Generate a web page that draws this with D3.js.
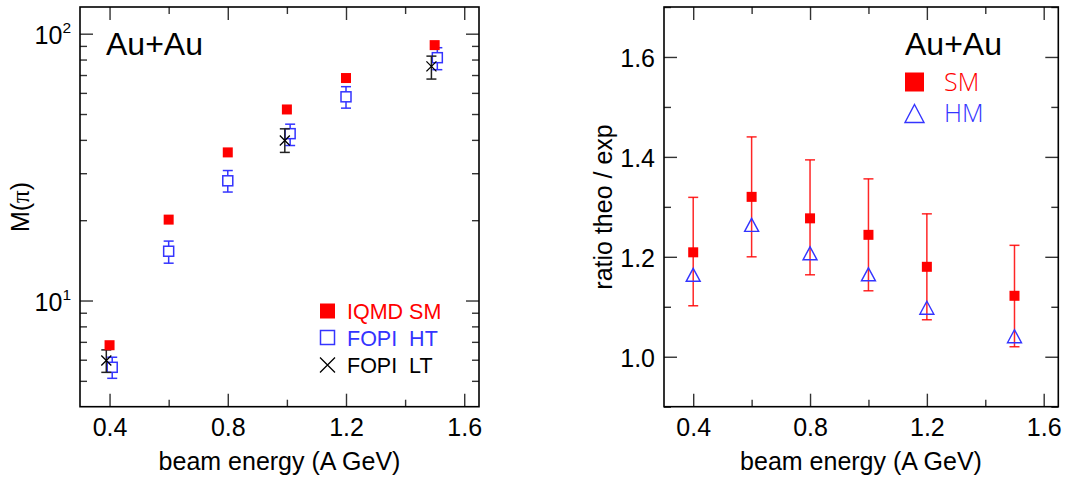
<!DOCTYPE html>
<html><head><meta charset="utf-8">
<script src="https://cdn.jsdelivr.net/npm/d3@7"></script>
<style>
html,body{margin:0;padding:0;background:#fff;}
svg{display:block;font-family:"Liberation Sans",Arial,Helvetica,sans-serif;}
</style></head>
<body>
<svg id="c" width="1069" height="477"></svg>
<script>
// ---------- data ----------
const energies = [0.4, 0.6, 0.8, 1.0, 1.2, 1.5];
// left panel: pion multiplicity
const iqmdSM   = [6.8, 20.1, 35.9, 52.0, 68.2, 90.6];
const fopiHTx  = [0.409, 0.6, 0.8, 1.011, 1.2, 1.509];
const fopiHT   = [5.62, 15.3, 28.1, 42.2, 58.0, 81.3];
const fopiHTlo = [5.11, 13.8, 25.5, 38.1, 52.6, 73.3];
const fopiHThi = [6.13, 16.7, 30.7, 45.8, 63.3, 88.6];
const fopiLTx  = [0.389, 0.993, 1.489];
const fopiLT   = [5.96, 39.8, 75.4];
const fopiLTlo = [5.38, 35.9, 67.6];
const fopiLThi = [6.53, 44.0, 82.4];
// right panel: ratio theo / exp
const ratioSM   = [1.209, 1.320, 1.277, 1.244, 1.180, 1.122];
const ratioSMlo = [1.102, 1.200, 1.164, 1.132, 1.074, 1.020];
const ratioSMhi = [1.319, 1.440, 1.394, 1.356, 1.286, 1.223];
const ratioHM   = [1.164, 1.264, 1.207, 1.165, 1.098, 1.041];
// ticks
const xMajor = [0.4, 0.8, 1.2, 1.6];
const xMinor = [0.6, 1.0, 1.4];
const yLogMajor = [10, 100];
const yLogMinor = [5, 6, 7, 8, 9, 20, 30, 40, 50, 60, 70, 80, 90];
const yRatMajor = [1.0, 1.2, 1.4, 1.6];
const yRatMinor = [0.9, 1.1, 1.3, 1.5, 1.7];
const legendLeft = ["IQMD SM", "FOPI  HT", "FOPI  LT"];
const legendRight = ["SM", "HM"];

const RED = "#ff0000", BLUE = "#3434ff", BLACK = "#000";
const svg = d3.select("#c");
const TOP = 7, BOT = 406.7;
const MAJ = 13, MIN = 7;

function frameAxes(g, x, y, xL, xR, yMaj, yMin, yFmt) {
  const tickCol = "#333";
  const style = sel => { sel.select(".domain").remove(); sel.selectAll("line").attr("stroke", tickCol).attr("stroke-width", 1.4); };
  g.append("g").attr("transform", `translate(0,${BOT})`)
    .call(d3.axisBottom(x).tickValues(xMajor).tickSizeInner(-MAJ).tickSizeOuter(0).tickPadding(12).tickFormat(d3.format(".1f")))
    .call(style).selectAll("text").attr("font-size", 25).attr("fill", "#000").attr("font-family", "Liberation Sans, Arial, sans-serif");
  g.append("g").attr("transform", `translate(0,${BOT})`)
    .call(d3.axisBottom(x).tickValues(xMinor).tickSizeInner(-MIN).tickSizeOuter(0).tickFormat(""))
    .call(style);
  g.append("g").attr("transform", `translate(0,${TOP})`)
    .call(d3.axisTop(x).tickValues(xMajor).tickSizeInner(-MAJ).tickSizeOuter(0).tickFormat(""))
    .call(style);
  g.append("g").attr("transform", `translate(0,${TOP})`)
    .call(d3.axisTop(x).tickValues(xMinor).tickSizeInner(-MIN).tickSizeOuter(0).tickFormat(""))
    .call(style);
  const la = g.append("g").attr("transform", `translate(${xL},0)`)
    .call(d3.axisLeft(y).tickValues(yMaj).tickSizeInner(-MAJ).tickSizeOuter(0).tickPadding(9).tickFormat(yFmt))
    .call(style);
  g.append("g").attr("transform", `translate(${xL},0)`)
    .call(d3.axisLeft(y).tickValues(yMin).tickSizeInner(-MIN).tickSizeOuter(0).tickFormat(""))
    .call(style);
  g.append("g").attr("transform", `translate(${xR},0)`)
    .call(d3.axisRight(y).tickValues(yMaj).tickSizeInner(-MAJ).tickSizeOuter(0).tickFormat(""))
    .call(style);
  g.append("g").attr("transform", `translate(${xR},0)`)
    .call(d3.axisRight(y).tickValues(yMin).tickSizeInner(-MIN).tickSizeOuter(0).tickFormat(""))
    .call(style);
  g.append("rect").attr("x", xL).attr("y", TOP).attr("width", xR - xL).attr("height", BOT - TOP)
    .attr("fill", "none").attr("stroke", "#000").attr("stroke-width", 1.6);
  return la;
}

function errBars(g, xs, lo, hi, x, y, col, cap) {
  xs.forEach((xv, i) => {
    const px = x(xv), y1 = y(lo[i]), y2 = y(hi[i]);
    g.append("line").attr("x1", px).attr("x2", px).attr("y1", y1).attr("y2", y2).attr("stroke", col).attr("stroke-width", 1.5);
    [y1, y2].forEach(yy => g.append("line").attr("x1", px - cap / 2).attr("x2", px + cap / 2).attr("y1", yy).attr("y2", yy).attr("stroke", col).attr("stroke-width", 1.5));
  });
}
function sqFilled(g, px, py, s, col) { g.append("rect").attr("x", px - s / 2).attr("y", py - s / 2).attr("width", s).attr("height", s).attr("fill", col); }
function sqOpen(g, px, py, s, col) { g.append("rect").attr("x", px - s / 2).attr("y", py - s / 2).attr("width", s).attr("height", s).attr("fill", "#fff").attr("stroke", col).attr("stroke-width", 1.5); }
function cross(g, px, py, s, col) {
  g.append("path").attr("d", `M${px - s / 2},${py - s / 2}L${px + s / 2},${py + s / 2}M${px - s / 2},${py + s / 2}L${px + s / 2},${py - s / 2}`).attr("stroke", col).attr("stroke-width", 1.3).attr("fill", "none");
}
function tri(g, px, py, w, h, col) {
  g.append("path").attr("d", `M${px},${py - h / 2}L${px + w / 2},${py + h / 2}L${px - w / 2},${py + h / 2}Z`).attr("stroke", col).attr("stroke-width", 1.4).attr("fill", "none");
}

// ---------- left panel ----------
const gL = svg.append("g");
const xL = d3.scaleLinear().domain([0.3, 1.65]).range([80, 479]);
const yL = d3.scaleLog().domain([4, 125.9]).range([BOT, TOP]);
const laL = frameAxes(gL, xL, yL, 80, 479, yLogMajor, yLogMinor, () => "");
laL.selectAll(".tick text").each(function (d) {
  const t = d3.select(this).attr("dy", null).attr("y", 10).attr("fill", "#000");
  t.append("tspan").attr("font-size", 25).text("10");
  t.append("tspan").attr("font-size", 15.5).attr("dy", -11).text(Math.round(Math.log10(d)));
});

errBars(gL, fopiHTx, fopiHTlo, fopiHThi, xL, yL, BLUE, 10);
fopiHTx.forEach((xv, i) => sqOpen(gL, xL(xv), yL(fopiHT[i]), 10, BLUE));
errBars(gL, fopiLTx, fopiLTlo, fopiLThi, xL, yL, "#222", 10);
fopiLTx.forEach((xv, i) => cross(gL, xL(xv), yL(fopiLT[i]), 10, BLACK));
energies.forEach((xv, i) => sqFilled(gL, xL(xv), yL(iqmdSM[i]), 10, RED));

gL.append("text").attr("x", 106).attr("y", 55).attr("font-size", 32).text("Au+Au");
// legend left
sqFilled(gL, 327.5, 311, 15, RED);
sqOpen(gL, 327.5, 337.5, 14, BLUE);
cross(gL, 327.5, 365, 15, BLACK);
[RED, BLUE, BLACK].forEach((c, i) => gL.append("text").attr("x", 347).attr("y", 318.5 + i * 27).attr("font-size", 21.5).attr("fill", c).attr("xml:space", "preserve").style("white-space", "pre").text(legendLeft[i]));

gL.append("text").attr("x", 279.5).attr("y", 470).attr("text-anchor", "middle").attr("font-size", 25).text("beam energy (A GeV)");
const ytL = gL.append("text").attr("transform", "translate(29,207) rotate(-90)").attr("text-anchor", "middle").attr("font-size", 25);
ytL.append("tspan").text("M(");
ytL.append("tspan").attr("font-family", "Liberation Serif, DejaVu Serif, serif").text("π");
ytL.append("tspan").text(")");

// ---------- right panel ----------
const gR = svg.append("g");
const xR = d3.scaleLinear().domain([0.3, 1.65]).range([664, 1058.3]);
const yR = d3.scaleLinear().domain([0.9, 1.7]).range([BOT, TOP]);
const laR = frameAxes(gR, xR, yR, 664, 1058.3, yRatMajor, yRatMinor, d3.format(".1f"));
laR.selectAll(".tick text").attr("font-size", 25).attr("fill", "#000").attr("dy", "0.38em");

errBars(gR, energies, ratioSMlo, ratioSMhi, xR, yR, "rgba(255,0,0,0.85)", 10);
energies.forEach((xv, i) => tri(gR, xR(xv), yR(ratioHM[i]), 14, 13, BLUE));
energies.forEach((xv, i) => sqFilled(gR, xR(xv), yR(ratioSM[i]), 10, RED));

gR.append("text").attr("x", 905).attr("y", 55).attr("font-size", 32).text("Au+Au");
sqFilled(gR, 914.5, 82, 19, RED);
tri(gR, 914.5, 113.5, 19, 18, BLUE);
gR.append("text").attr("x", 944).attr("y", 91).attr("font-size", 25).attr("font-family", "Open Sans, Liberation Sans, sans-serif").attr("font-weight", 300).attr("fill", RED).text(legendRight[0]);
gR.append("text").attr("x", 944).attr("y", 122).attr("font-size", 25).attr("font-family", "Open Sans, Liberation Sans, sans-serif").attr("font-weight", 300).attr("fill", BLUE).text(legendRight[1]);

gR.append("text").attr("x", 861).attr("y", 470).attr("text-anchor", "middle").attr("font-size", 25).text("beam energy (A GeV)");
gR.append("text").attr("transform", "translate(612,207) rotate(-90)").attr("text-anchor", "middle").attr("font-size", 25).text("ratio theo / exp");
</script>
</body></html>
